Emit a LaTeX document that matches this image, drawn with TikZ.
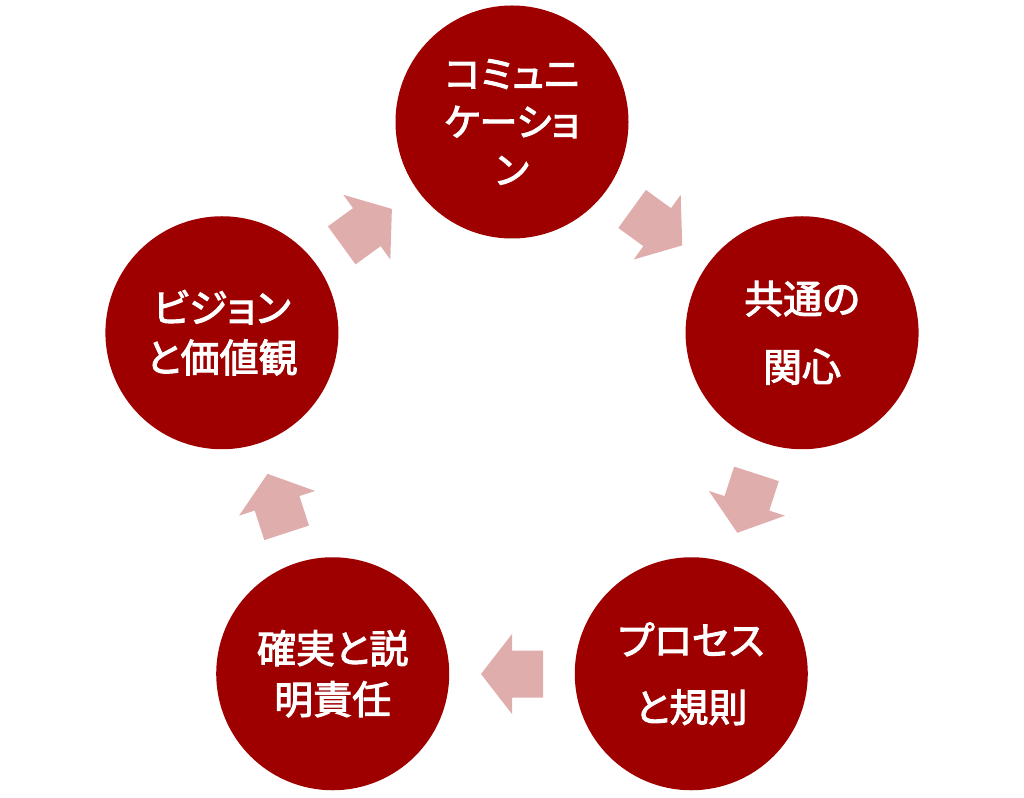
\documentclass[tikz,border=0pt]{standalone}
\usepackage{fontspec}
\newfontfamily\cjk{Noto Sans CJK JP}[RawFeature=+palt, FakeBold=2.6]
\definecolor{circ}{HTML}{9E0000}
\definecolor{arr}{HTML}{E0ADAD}
\tikzset{
  stage/.style={circle, fill=circ, minimum size=233pt, inner sep=0pt, text=white, align=center},
  blockarrow/.pic={\fill[arr] (-31,23.5) -- (0,23.5) -- (0,40) -- (31,0) -- (0,-40) -- (0,-23.5) -- (-31,-23.5) -- cycle;}
}
\begin{document}
\begin{tikzpicture}[x=1pt,y=1pt]
\useasboundingbox (-512,-370) rectangle (512,427);
\node[stage, font=\cjk\fontsize{38}{48}\selectfont] (c1) at (90:305pt) {コミュニ\\ケーショ\\ン};
\node[stage, font=\cjk\fontsize{39}{68}\selectfont] (c2) at (18:305pt) {共通の\\関心};
\node[stage, font=\cjk\fontsize{39}{67}\selectfont] (c3) at (-54:305pt) {プロセス\\と規則};
\node[stage, font=\cjk\fontsize{39}{51}\selectfont] (c4) at (-126:305pt) {確実と説\\明責任};
\node[stage, font=\cjk\fontsize{39}{50}\selectfont] (c5) at (162:305pt) {ビジョン\\と価値観};
\coordinate (a1) at (54:247pt);
\coordinate (a2) at (-18:247pt);
\coordinate (a3) at (-90:247pt);
\coordinate (a4) at (-162:247pt);
\coordinate (a5) at (126:247pt);
\pic[rotate=-36] at (a1) {blockarrow};
\pic[rotate=-108] at (a2) {blockarrow};
\pic[rotate=180] at (a3) {blockarrow};
\pic[rotate=108] at (a4) {blockarrow};
\pic[rotate=36] at (a5) {blockarrow};
\end{tikzpicture}
\end{document}
